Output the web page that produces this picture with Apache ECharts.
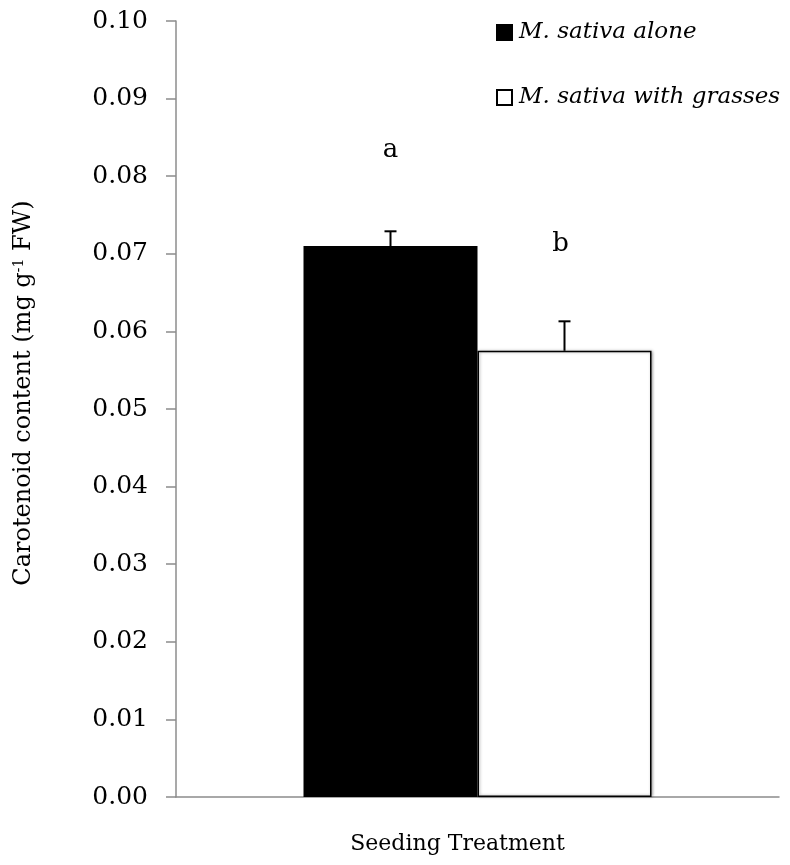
<!DOCTYPE html>
<html>
<head>
<meta charset="utf-8">
<script src="https://cdn.jsdelivr.net/npm/echarts@6/dist/echarts.min.js"></script>
<style>
  html, body { margin: 0; padding: 0; background: #fff; }
</style>
</head>
<body>
<div id="main" style="width: 790px; height: 865px"></div>
<script>
// data
var categories = ["Seeding Treatment"];
var seriesNames = ["M. sativa alone", "M. sativa with grasses"];
var means = [0.0710, 0.0575];
var errors = [0.0019, 0.0038];
var letters = ["a", "b"];
var yTicks = { min: 0, max: 0.1, interval: 0.01 };

var serif = "DejaVu Serif";
var barW = 174;
var axisGrey = "#8c8c8c";

var myChart = echarts.init(document.getElementById("main"));

function errorSeries(i) {
  return {
    type: "custom",
    name: seriesNames[i] + " err",
    z: 5,
    data: [[0, means[i], errors[i], letters[i]]],
    encode: { x: 0, y: 1 },
    renderItem: function (params, api) {
      var base = api.coord([api.value(0), api.value(1)]);
      var top = api.coord([api.value(0), api.value(1) + api.value(2)]);
      var x = base[0] + (i - 0.5) * barW;
      var style = { stroke: "#000", lineWidth: 2 };
      return {
        type: "group",
        children: [
          { type: "line", shape: { x1: x, y1: base[1], x2: x, y2: top[1] }, style: style },
          { type: "line", shape: { x1: x - 6, y1: top[1], x2: x + 6, y2: top[1] }, style: style },
          {
            type: "text",
            style: {
              x: x - 4 * i, y: top[1] - 64 - 4 * (1 - i), text: letters[i],
              font: "26px '" + serif + "'", fill: "#000",
              align: "center", verticalAlign: "bottom"
            }
          }
        ]
      };
    }
  };
}

var option = {
  animation: false,
  grid: { left: 176, right: 11, top: 21, bottom: 68 },
  legend: {
    orient: "vertical",
    left: 491,
    top: 16,
    itemWidth: 15,
    itemHeight: 15,
    itemGap: 42,
    icon: "rect",
    data: seriesNames,
    textStyle: { fontFamily: serif, fontStyle: "italic", fontSize: 23, color: "#000", padding: [0, 0, 0, 2] }
  },
  xAxis: {
    type: "category",
    data: categories,
    axisLine: { lineStyle: { color: axisGrey, width: 1.5 } },
    axisTick: { show: false },
    axisLabel: { show: true, margin: 36, fontFamily: serif, fontSize: 22, color: "#000", padding: [0, 40, 0, 0] }
  },
  yAxis: {
    type: "value",
    min: yTicks.min,
    max: yTicks.max,
    interval: yTicks.interval,
    name: "{n|Carotenoid content (mg g}{s|-1}{n| FW)}",
    nameLocation: "middle",
    nameRotate: 90,
    nameGap: 140,
    nameTextStyle: {
      padding: [0, 0, 0, 32],
      rich: {
        n: { fontFamily: serif, fontSize: 24, color: "#000" },
        s: { fontFamily: serif, fontSize: 14, color: "#000", verticalAlign: "top", padding: [0, 0, 10, 0] }
      }
    },
    splitLine: { show: false },
    axisLine: { show: true, lineStyle: { color: axisGrey, width: 1.5 } },
    axisTick: { show: true, length: 10, lineStyle: { color: axisGrey, width: 1.5 } },
    axisLabel: {
      margin: 28,
      fontFamily: serif,
      fontSize: 25,
      color: "#000",
      formatter: function (v) { return v.toFixed(2); }
    }
  },
  series: [
    {
      name: seriesNames[0],
      type: "bar",
      barWidth: barW,
      barGap: "0%",
      data: [means[0]],
      itemStyle: { color: "#000", borderColor: "#000", borderWidth: 1.5 }
    },
    {
      name: seriesNames[1],
      type: "bar",
      barWidth: barW,
      barGap: "0%",
      data: [means[1]],
      itemStyle: {
        color: "#fff", borderColor: "#000", borderWidth: 1.5,
        shadowColor: "rgba(0,0,0,0.35)", shadowBlur: 3, shadowOffsetX: 1
      }
    },
    errorSeries(0),
    errorSeries(1)
  ]
};

myChart.setOption(option);
</script>
</body>
</html>
